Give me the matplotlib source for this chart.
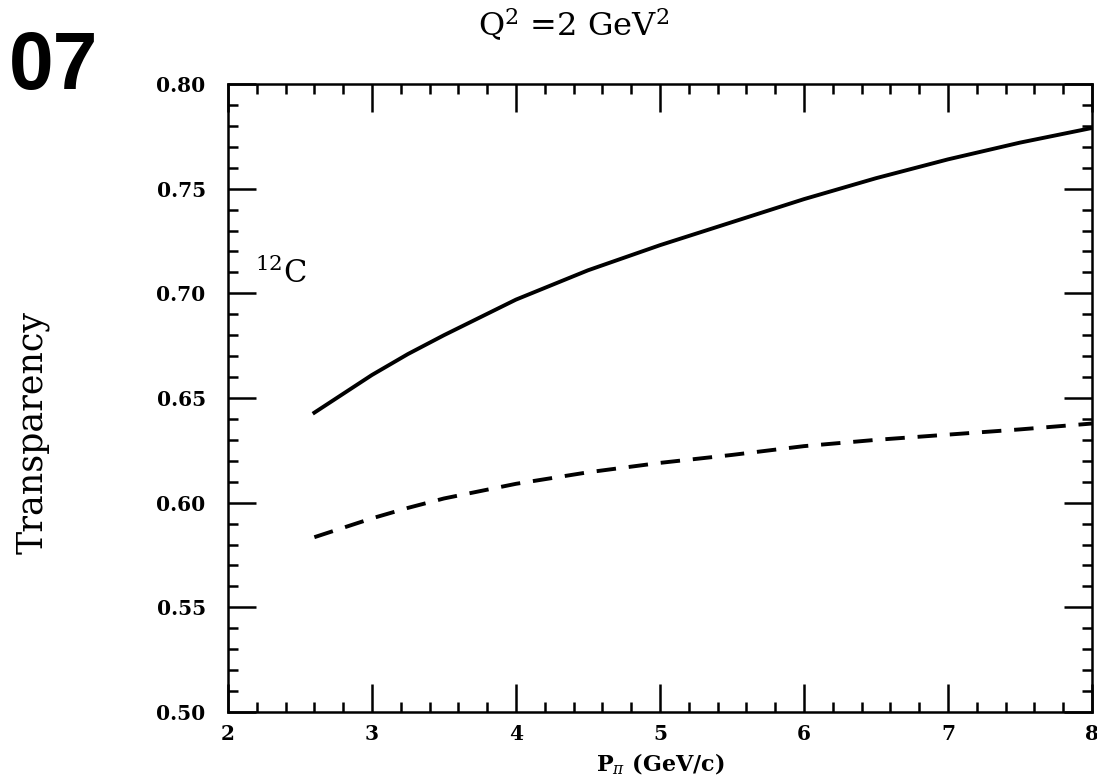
import matplotlib.pyplot as plt
from matplotlib.ticker import MultipleLocator, FormatStrFormatter

# values
p_pi = [2.6, 2.8, 3.0, 3.25, 3.5, 4.0, 4.5, 5.0, 5.5, 6.0, 6.5, 7.0, 7.5, 8.0]
transp_solid = [0.643, 0.652, 0.661, 0.671, 0.680, 0.697, 0.711, 0.723, 0.734, 0.745, 0.755, 0.764, 0.772, 0.779]
transp_dashed = [0.5835, 0.588, 0.5925, 0.5975, 0.602, 0.609, 0.6145, 0.619, 0.6228, 0.627, 0.630, 0.6325, 0.635, 0.6378]

plt.rcParams['mathtext.fontset'] = 'dejavuserif'

fig = plt.figure(figsize=(10.97, 7.83), dpi=100)
ax = fig.add_axes([0.2078, 0.0907, 0.7876, 0.802])

ax.plot(p_pi, transp_solid, color='black', lw=2.8)
ax.plot(p_pi, transp_dashed, color='black', lw=2.8, dashes=(5, 3.3))

ax.set_xlim(2, 8)
ax.set_ylim(0.5, 0.8)
ax.xaxis.set_major_locator(MultipleLocator(1))
ax.xaxis.set_minor_locator(MultipleLocator(0.2))
ax.yaxis.set_major_locator(MultipleLocator(0.05))
ax.yaxis.set_minor_locator(MultipleLocator(0.01))
ax.yaxis.set_major_formatter(FormatStrFormatter('%.2f'))
ax.tick_params(which='both', direction='in', top=True, right=True, width=1.8)
ax.tick_params(which='major', length=20)
ax.tick_params(which='minor', length=7.5)
ax.tick_params(axis='y', which='major', pad=16)
ax.tick_params(axis='x', which='major', pad=9)
for s in ax.spines.values():
    s.set_linewidth(1.8)
for lab in ax.get_xticklabels() + ax.get_yticklabels():
    lab.set_family('DejaVu Serif')
    lab.set_fontweight('bold')
    lab.set_fontsize(14.5)

ax.text(2.19, 0.705, r'$^{12}$C', fontsize=22, family='DejaVu Serif')

ax.set_xlabel(r'P$_\pi$ (GeV/c)', fontsize=16, family='DejaVu Serif', fontweight='bold', labelpad=5)
fig.text(0.030, 0.448, 'Transparency', rotation=90, fontsize=25, family='DejaVu Serif',
         ha='center', va='center')
fig.text(0.523, 0.968, r'Q$^2$ =2 GeV$^2$', fontsize=23, family='DejaVu Serif',
         ha='center', va='center')
fig.text(0.008, 0.913, '07', fontsize=58, family='Liberation Sans', fontweight='bold',
         ha='left', va='center')

fig.savefig('out.png', dpi=100)
